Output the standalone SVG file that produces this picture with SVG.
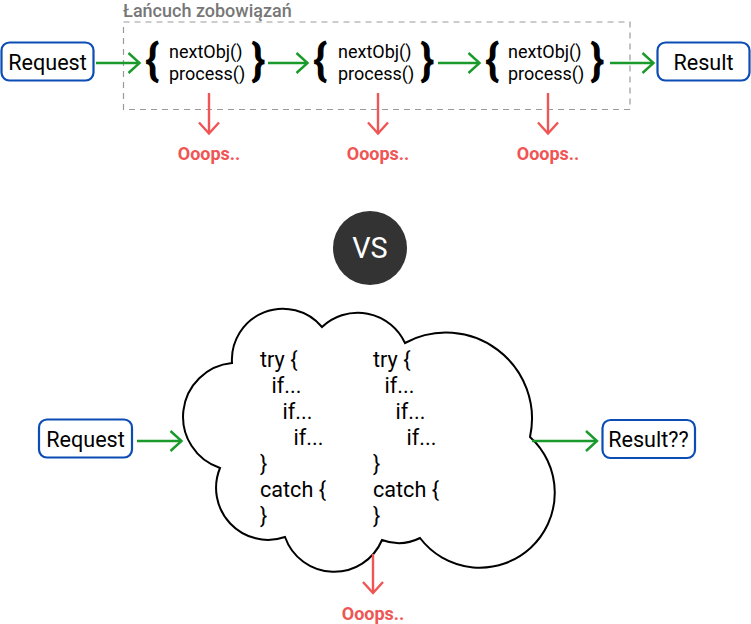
<svg xmlns="http://www.w3.org/2000/svg" width="751" height="624" viewBox="0 0 751 624">
<style>
  text { font-family: Roboto, "Liberation Sans", sans-serif; }
  .box { fill: #ffffff; stroke: #0B4DB5; stroke-width: 2.2; }
  .lbl { font-size: 21.6px; fill: #000; text-anchor: middle; }
  .code { font-size: 18px; fill: #000; }
  .brace { font-size: 44px; font-weight: bold; fill: #000; }
  .oops { font-size: 18px; font-weight: bold; fill: #EF5555; text-anchor: middle; }
  .ctext { font-size: 21.6px; fill: #000; }
  .g { stroke: #1A9A2A; stroke-width: 2.4; fill: none; }
  .r { stroke: #EF5555; stroke-width: 2.4; fill: none; }
</style>
<defs>
  <marker id="ag" markerUnits="userSpaceOnUse" viewBox="-14 -12 16 24" refX="0" refY="0" markerWidth="16" markerHeight="24" orient="auto" overflow="visible">
    <path d="M-11,-10 L0,0 L-11,10" fill="none" stroke="#1A9A2A" stroke-width="2.4"/>
  </marker>
  <marker id="ar" markerUnits="userSpaceOnUse" viewBox="-14 -12 16 24" refX="0" refY="0" markerWidth="16" markerHeight="24" orient="auto" overflow="visible">
    <path d="M-11,-10 L0,0 L-11,10" fill="none" stroke="#EF5555" stroke-width="2.4"/>
  </marker>
</defs>
<rect width="751" height="624" fill="#ffffff"/>

<g id="chain">
  <rect x="123.5" y="22" width="506.5" height="87.5" fill="none" stroke="#9a9a9a" stroke-width="1.2" stroke-dasharray="6 5"/>
  <text x="123" y="16.5" font-size="18" font-weight="500" fill="#777777">Łańcuch zobowiązań</text>
</g>

<g id="request-top">
  <rect class="box" x="1.5" y="42.5" width="92" height="38" rx="8"/>
  <text class="lbl" x="47.5" y="69.5">Request</text>
</g>

<g id="obj1">
  <text class="brace" x="145" y="75">{</text>
  <text class="code" x="169" y="58">nextObj()</text>
  <text class="code" x="169" y="79.5">process()</text>
  <text class="brace" x="251" y="75">}</text>
</g>
<g id="obj2">
  <text class="brace" x="313" y="75">{</text>
  <text class="code" x="338" y="58">nextObj()</text>
  <text class="code" x="338" y="79.5">process()</text>
  <text class="brace" x="420" y="75">}</text>
</g>
<g id="obj3">
  <text class="brace" x="485" y="75">{</text>
  <text class="code" x="508" y="58">nextObj()</text>
  <text class="code" x="508" y="79.5">process()</text>
  <text class="brace" x="590" y="75">}</text>
</g>

<g id="result-top">
  <rect class="box" x="657.5" y="42.5" width="92" height="38" rx="8"/>
  <text class="lbl" x="703.5" y="69.5">Result</text>
</g>

<g id="oops1"><text class="oops" x="209" y="160">Ooops..</text></g>
<g id="oops2"><text class="oops" x="378" y="160">Ooops..</text></g>
<g id="oops3"><text class="oops" x="548" y="160">Ooops..</text></g>

<g id="vs">
  <circle cx="370" cy="248" r="37" fill="#333333"/>
  <text x="370" y="258" font-size="28.8" fill="#ffffff" text-anchor="middle">VS</text>
</g>

<g id="request-bottom">
  <rect class="box" x="39" y="419.5" width="93" height="38" rx="8"/>
  <text class="lbl" x="85.5" y="446.5">Request</text>
</g>

<g id="cloud">
  <path d="M232,363 A51,51 0 0 1 322,327 A52,52 0 0 1 405,343 A86,86 0 0 1 530,437 A75,75 0 1 1 420,538 A47,47 0 0 1 382,540 A52,52 0 0 1 285,537 A52,52 0 0 1 220,468 A54,54 0 0 1 232,363 Z" fill="#ffffff" stroke="#000000" stroke-width="2"/>
  <text class="ctext">
    <tspan x="260" y="367">try {</tspan>
    <tspan x="271.5" y="393">if...</tspan>
    <tspan x="282.5" y="419">if...</tspan>
    <tspan x="293.5" y="445">if...</tspan>
    <tspan x="260" y="471">}</tspan>
    <tspan x="260" y="497">catch {</tspan>
    <tspan x="260" y="523">}</tspan>
  </text>
  <text class="ctext">
    <tspan x="373" y="367">try {</tspan>
    <tspan x="384.5" y="393">if...</tspan>
    <tspan x="395.5" y="419">if...</tspan>
    <tspan x="406.5" y="445">if...</tspan>
    <tspan x="373" y="471">}</tspan>
    <tspan x="373" y="497">catch {</tspan>
    <tspan x="373" y="523">}</tspan>
  </text>
</g>

<g id="result-bottom">
  <rect class="box" x="602.5" y="420" width="92.5" height="38" rx="8"/>
  <text class="lbl" x="648.5" y="446.5">Result??</text>
</g>

<g id="oops-bottom"><text class="oops" x="373" y="620">Ooops..</text></g>

<g id="connectors">
  <line class="g" x1="96" y1="63" x2="139.5" y2="63" marker-end="url(#ag)"/>
  <line class="g" x1="268" y1="63" x2="307.5" y2="63" marker-end="url(#ag)"/>
  <line class="g" x1="438" y1="63" x2="479.5" y2="63" marker-end="url(#ag)"/>
  <line class="g" x1="610" y1="63" x2="653.5" y2="63" marker-end="url(#ag)"/>
  <line class="r" x1="209" y1="93" x2="209" y2="133.5" marker-end="url(#ar)"/>
  <line class="r" x1="378" y1="93" x2="378" y2="133.5" marker-end="url(#ar)"/>
  <line class="r" x1="548" y1="93" x2="548" y2="133.5" marker-end="url(#ar)"/>
  <line class="g" x1="137" y1="441" x2="181.5" y2="441" marker-end="url(#ag)"/>
  <line class="g" x1="532" y1="441" x2="597" y2="441" marker-end="url(#ag)"/>
  <line class="r" x1="373" y1="554" x2="373" y2="593" marker-end="url(#ar)"/>
</g>
</svg>
